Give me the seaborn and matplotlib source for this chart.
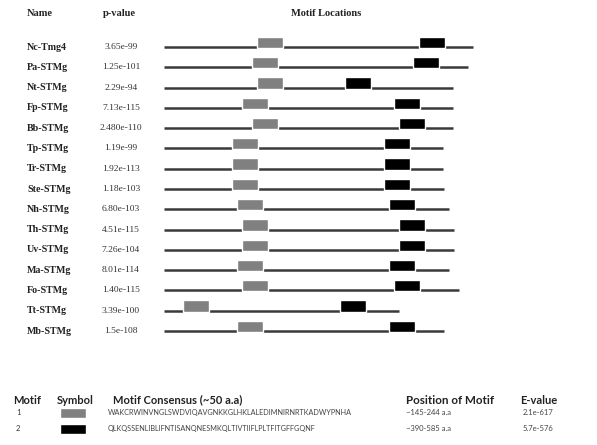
import matplotlib
matplotlib.use("Agg")
import matplotlib.pyplot as plt
import seaborn as sns
import pandas as pd

# proteinas, p-valores y posiciones de motivos (aa aprox.)
names = ["Nc-Tmg4", "Pa-STMg", "Nt-STMg", "Fp-STMg", "Bb-STMg", "Tp-STMg", "Tr-STMg",
         "Ste-STMg", "Nh-STMg", "Th-STMg", "Uv-STMg", "Ma-STMg", "Fo-STMg", "Tt-STMg", "Mb-STMg"]
pvalues = ["3.65e-99", "1.25e-101", "2.29e-94", "7.13e-115", "2.480e-110", "1.19e-99", "1.92e-113",
           "1.18e-103", "6.80e-103", "4.51e-115", "7.26e-104", "8.01e-114", "1.40e-115", "3.39e-100", "1.5e-108"]
lengths = [618, 608, 578, 578, 578, 558, 558, 560, 570, 580, 580, 570, 590, 470, 560]
motif1_start = [186, 176, 186, 156, 176, 136, 136, 136, 146, 156, 156, 146, 156, 38, 146]
motif2_start = [510, 498, 362, 460, 470, 440, 440, 440, 450, 470, 470, 450, 460, 352, 450]
motif_len = 52

# tabla de motivos
motif_ids = ["1", "2"]
motif_consensus = ["WAKCRWINVNGLSWDVIQAVGNKKGLHKLALEDIMNIRNRTKADWYPNHA",
                   "QLKQSSENLIBLIFNTISANQNESMKQLTIVTIIFLPLTFITGFFGQNF"]
motif_position = ["~145-244 a.a", "~390-585 a.a"]
motif_evalue = ["2.1e-617", "5.7e-576"]
motif_colors = ["#808080", "#000000"]

df = pd.DataFrame({"name": names, "pval": pvalues, "length": lengths,
                   "m1": motif1_start, "m2": motif2_start})
df["row"] = range(len(df))

sns.set_theme(style="white")
plt.rcParams["font.family"] = ["Liberation Serif", "DejaVu Serif"]

W, H = 597, 445
fig = plt.figure(figsize=(W / 100, H / 100), dpi=100)

# ejes principales: x en aminoacidos, 0 -> px 164, 0.5 px por aa
left_px, right_px = 164, 480
top_px, bot_px = 16.6, 341.2
ax = fig.add_axes([left_px / W, 1 - bot_px / H, (right_px - left_px) / W, (bot_px - top_px) / H])
ax.set_xlim(0, (right_px - left_px) * 2)
ax.set_ylim(14.5, -1.5)
ax.axis("off")

# linea de la proteina y motivos apoyados encima
box_h = 0.56
ax.hlines(df["row"], 0, df["length"], color="#3a3a3a", linewidth=1.8, zorder=1)
ax.barh(df["row"] - box_h / 2 + 0.05, motif_len, left=df["m1"], height=box_h,
        color=motif_colors[0], zorder=2)
ax.barh(df["row"] - box_h / 2 + 0.05, motif_len, left=df["m2"], height=box_h,
        color=motif_colors[1], zorder=2)

# nombres y p-valores
for r, n, p in zip(df["row"], df["name"], df["pval"]):
    ax.text(-(left_px - 27) * 2, r, n, ha="left", va="center", fontsize=7.2,
            fontweight="bold", color="#222222")
    ax.text(-(left_px - 121) * 2, r, p, ha="center", va="center", fontsize=6.8,
            color="#333333")

# encabezados
fig.text(27 / W, 1 - 14 / H, "Name", ha="left", va="center", fontsize=7.5,
         fontweight="bold", color="#222222")
fig.text(103 / W, 1 - 14 / H, "p-value", ha="left", va="center", fontsize=7.5,
         fontweight="bold", color="#222222")
fig.text(326 / W, 1 - 14 / H, "Motif Locations", ha="center", va="center", fontsize=7.5,
         fontweight="bold", color="#222222")

# tabla inferior
sans = ["Lato", "DejaVu Sans"]
hy = 1 - 400 / H
hdr = dict(ha="left", va="center", fontsize=8, fontweight="bold", family=sans, color="#222222")
fig.text(13 / W, hy, "Motif", **hdr)
fig.text(57 / W, hy, "Symbol", **hdr)
fig.text(113 / W, hy, "Motif Consensus (~50 a.a)", **hdr)
fig.text(406 / W, hy, "Position of Motif", fontsize=8.4,
         **{k: v for k, v in hdr.items() if k != "fontsize"})
fig.text(520 / W, hy, "E-value", **hdr)

tab = fig.add_axes([0, 0, 1, 1], zorder=-1)
tab.set_xlim(0, W)
tab.set_ylim(H, 0)
tab.axis("off")
row_y = [412.5, 428.5]
tab.barh(row_y, 26, left=60, height=10, color=motif_colors)
for y, mid, seq, pos, ev in zip(row_y, motif_ids, motif_consensus, motif_position, motif_evalue):
    tab.text(16, y, mid, ha="left", va="center", fontsize=5.5, family=sans, color="#333333")
    tab.text(108, y, seq, ha="left", va="center", fontsize=5.2, family=sans, color="#444444")
    tab.text(406, y, pos, ha="left", va="center", fontsize=5.5, family=sans, color="#444444")
    tab.text(538, y, ev, ha="center", va="center", fontsize=5.5, family=sans, color="#444444")

fig.savefig("out.png", dpi=100, facecolor="white")
